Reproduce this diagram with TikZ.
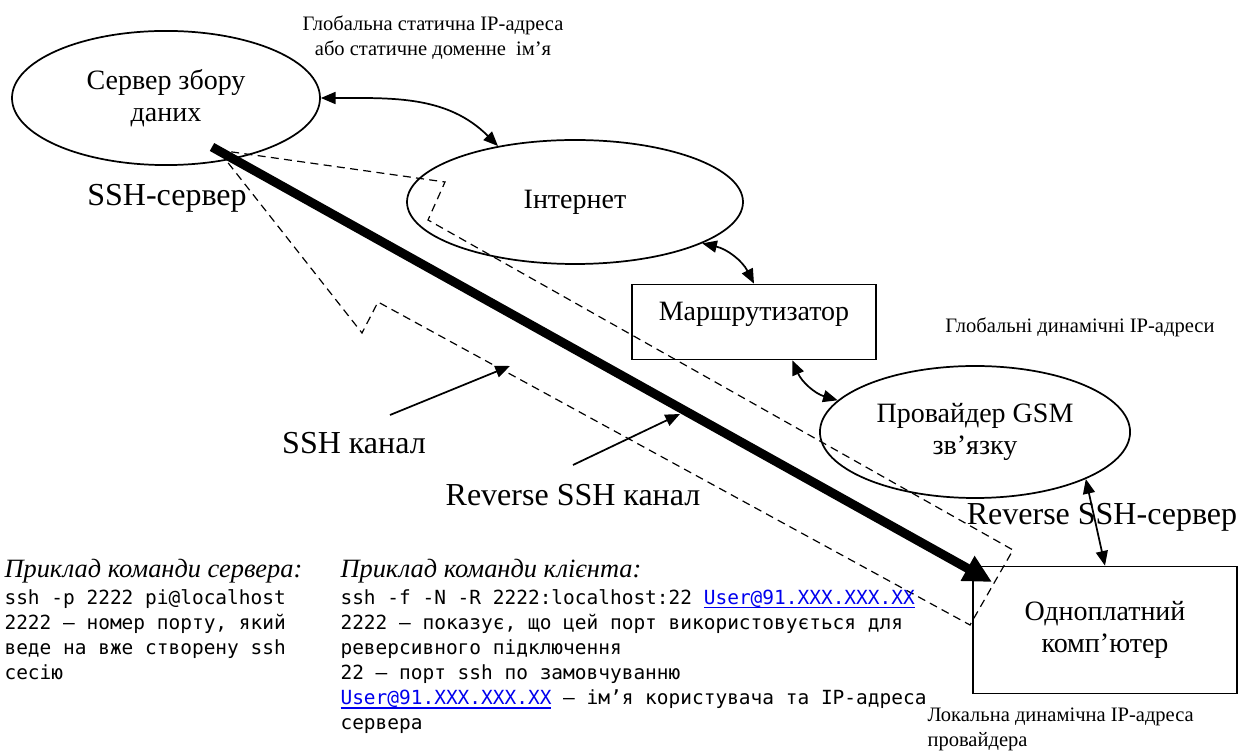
\documentclass[tikz,border=0pt]{standalone}
\usepackage{fontspec}
\setmainfont{Liberation Serif}
\newfontfamily\codefont{DejaVu Sans Mono}
\usepackage{tikz}
\usetikzlibrary{arrows.meta,positioning,shapes.geometric,calc}
\definecolor{linkblue}{RGB}{0,0,238}
\newsavebox\linkbox
\newcommand{\userlink}{\textcolor{linkblue}{\sbox\linkbox{User@91.XXX.XXX.XX}%
  \rlap{\vrule height -1pt depth 1.45pt width \wd\linkbox}\usebox\linkbox}}

\begin{document}
\begin{tikzpicture}[x=0.375pt, y=-0.375pt,
  box/.style={draw, line width=0.65pt, align=center, inner sep=0pt,
    font=\fontsize{10.5}{12}\selectfont},
  oval/.style={box, ellipse},
  note/.style={align=center, inner sep=0pt, font=\fontsize{7.7}{9.4}\selectfont},
  biglabel/.style={inner sep=0pt, font=\fontsize{12}{14}\selectfont},
  link/.style={{Triangle[length=5.5pt,width=4.5pt]}-{Triangle[length=5.5pt,width=4.5pt]}, line width=0.65pt},
  pointer/.style={-{Triangle[length=5.5pt,width=4.5pt]}, line width=0.65pt},
  tunnel/.style={dash pattern=on 3pt off 2pt, line width=0.45pt},
  cmdhead/.style={anchor=base west, inner sep=0pt, font=\fontsize{9.9}{12}\selectfont\itshape},
  cmd/.style={align=left, anchor=north west, inner sep=0pt, font=\codefont\fontsize{7.3}{9.4}\selectfont}]

  \useasboundingbox (0,0) rectangle (1247,751);

  \node[oval, minimum width=115.5pt, minimum height=50.3pt] (srv) at (166,98) {Сервер збору\\даних};
  \node[oval, minimum width=126pt, minimum height=46.5pt] (inet) at (575,202) {Інтернет};
  \node[box, minimum width=91.5pt, minimum height=28.1pt, text depth=8pt] (rtr) at (754,322) {Маршрутизатор};
  \node[oval, minimum width=116.3pt, minimum height=49.5pt] (gsm) at (975,432) {Провайдер GSM\\зв’язку};
  \node[box, minimum width=99pt, minimum height=47.6pt] (comp) at (1105,630) {Одноплатний\\комп’ютер};

  \draw[tunnel] (218,150) -- (445,182) -- (428,220) -- (1013,550) -- (970,625)
    -- (378,302) -- (362,333) -- cycle;

  \coordinate (revstart) at (212,147);
  \coordinate (revend) at (992,582);
  \draw[line width=3.4pt, -{Triangle[length=10.5pt,width=10pt]}] (revstart) -- (revend);

  \draw[link] (srv.east) to[out=0, in=135] (inet.144);
  \draw[link] (inet.-18) to[bend left=25] (rtr.north);
  \draw[link] (rtr.-45) to[bend right=25] (gsm.167);
  \draw[link] (gsm.-23) -- (comp.north);

  \node[note] (staticip) at (433,38) {Глобальна статична IP-адреса\\або статичне доменне\ \ ім’я};
  \node[note] (dynip) at (1080,327) {Глобальні динамічні IP-адреси};
  \node[note, align=left, anchor=west] (localip) at (927,729) {Локальна динамічна IP-адреса\\провайдера};

  \node[biglabel] (sshsrv) at (167,198) {SSH-сервер};
  \node[biglabel] (revsrv) at (1102,517) {Reverse SSH-сервер};
  \node[biglabel] (sshch) at (354,443) {SSH канал};
  \node[biglabel] (revch) at (573,495) {Reverse SSH канал};

  \coordinate (sshtail) at (390,415);
  \coordinate (sshtip) at (510,366);
  \draw[pointer] (sshtail) -- (sshtip);
  \coordinate (revtail) at (573,465);
  \coordinate (revtip) at (680,414);
  \draw[pointer] (revtail) -- (revtip);

  \node[cmdhead] (srvhead) at (4,578) {Приклад команди сервера:};
  \node[cmd] (srvcmd) at (4,589) {ssh -p 2222 pi@localhost\\2222 – номер порту, який\\веде на вже створену ssh\\сесію};
  \node[cmdhead] (clihead) at (340,578) {Приклад команди клієнта:};
  \node[cmd] (clicmd) at (340,589) {ssh -f -N -R 2222:localhost:22 \userlink\\2222 – показує, що цей порт використовується для\\реверсивного підключення\\22 – порт ssh по замовчуванню\\\userlink{} – ім’я користувача та IP-адреса\\сервера};
\end{tikzpicture}
\end{document}
